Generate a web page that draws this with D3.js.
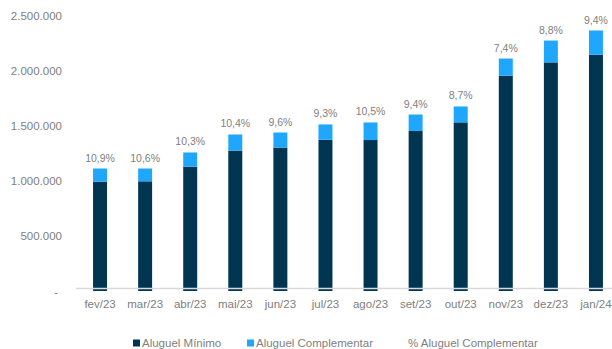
<html>
<head>
<script src="https://d3js.org/d3.v7.min.js"></script>
<style>
    body { margin: 0; background: #fff; }
    text { font-family: 'Liberation Sans', Arial, sans-serif; fill: #808080; }
</style>
</head>
<body>
<div id="chart"></div>
<script>
// data
var months = ["fev/23", "mar/23", "abr/23", "mai/23", "jun/23", "jul/23", "ago/23", "set/23", "out/23", "nov/23", "dez/23", "jan/24"];
var minimo = [977000, 980000, 1113000, 1258000, 1286000, 1356000, 1354000, 1436000, 1514000, 1937000, 2057000, 2126000];
var complementar = [119000, 116000, 128000, 146000, 136000, 139000, 159000, 149000, 144000, 155000, 198000, 220000];
var pctLabels = ["10,9%", "10,6%", "10,3%", "10,4%", "9,6%", "9,3%", "10,5%", "9,4%", "8,7%", "7,4%", "8,8%", "9,4%"];
var yTicks = [0, 500000, 1000000, 1500000, 2000000, 2500000];
var legendNames = ["Aluguel Mínimo", "Aluguel Complementar", "% Aluguel Complementar"];

var dark = "#003552", light = "#1ea7fd";

var svg = d3.select("#chart").append("svg")
    .attr("width", 612)
    .attr("height", 349);

var x = d3.scaleBand()
    .domain(months)
    .range([77.5, 618.5])
    .paddingInner(0.69)
    .paddingOuter(0.345);

var y = d3.scaleLinear()
    .domain([0, 2500000])
    .range([289.5, 13.5]);

var br = d3.formatLocale({decimal: ",", thousands: ".", grouping: [3], currency: ["", ""]});
var fmt = br.format(",d");

// y axis labels
var yAxis = d3.axisLeft(y)
    .tickValues(yTicks)
    .tickSize(0)
    .tickPadding(0)
    .tickFormat(function(d) { return d == 0 ? "-" : fmt(d); });

var gy = svg.append("g")
    .attr("transform", "translate(62,2)")
    .call(yAxis);
gy.select(".domain").remove();
gy.selectAll("text")
    .style("font-size", "11.5px")
    .attr("fill", "#808080")
    .style("font-family", "'Liberation Sans', Arial, sans-serif");
gy.selectAll(".tick").filter(function(d) { return d == 0; }).select("text")
    .attr("x", -4);

// stacked bars
svg.selectAll(".minimo")
    .data(minimo)
    .enter().append("rect")
    .attr("class", "minimo")
    .attr("x", function(d, i) { return x(months[i]); })
    .attr("y", function(d) { return y(d); })
    .attr("width", x.bandwidth())
    .attr("height", function(d) { return y(0) - y(d) + 1.5; })
    .style("fill", dark);

svg.selectAll(".comp")
    .data(complementar)
    .enter().append("rect")
    .attr("class", "comp")
    .attr("x", function(d, i) { return x(months[i]); })
    .attr("y", function(d, i) { return y(minimo[i] + d); })
    .attr("width", x.bandwidth())
    .attr("height", function(d, i) { return y(minimo[i]) - y(minimo[i] + d); })
    .style("fill", light);

// baseline
svg.append("line")
    .attr("x1", 76)
    .attr("x2", 612)
    .attr("y1", y(0) - 1)
    .attr("y2", y(0) - 1)
    .style("stroke", "#d9d9d9")
    .style("stroke-width", "1.5px");

// percent labels
svg.selectAll(".pct")
    .data(pctLabels)
    .enter().append("text")
    .attr("class", "pct")
    .attr("x", function(d, i) { return x(months[i]) + x.bandwidth() / 2; })
    .attr("y", function(d, i) { return y(minimo[i] + complementar[i]) - 7; })
    .attr("text-anchor", "middle")
    .style("font-size", "10.5px")
    .text(function(d) { return d; });

// x axis labels
var xAxis = d3.axisBottom(x).tickSize(0).tickPadding(0);
var gx = svg.append("g")
    .attr("transform", "translate(0,300)")
    .call(xAxis);
gx.select(".domain").remove();
gx.selectAll("text")
    .style("font-size", "11.5px")
    .attr("fill", "#808080")
    .style("font-family", "'Liberation Sans', Arial, sans-serif");

// legend
var legendX = [133, 247, 408];
var legendColors = [dark, light, null];
var lg = svg.selectAll(".legend")
    .data(legendNames)
    .enter().append("g")
    .attr("class", "legend")
    .attr("transform", function(d, i) { return "translate(" + legendX[i] + ",343)"; });

lg.filter(function(d, i) { return legendColors[i]; })
    .append("rect")
    .attr("x", 0)
    .attr("y", -3.5)
    .attr("width", 7)
    .attr("height", 7)
    .style("fill", function(d, i) { return legendColors[i]; });

lg.append("text")
    .attr("x", function(d, i) { return legendColors[i] ? 9 : 0; })
    .attr("y", 4)
    .style("font-size", "11.5px")
    .text(function(d) { return d; });
</script>
</body>
</html>
